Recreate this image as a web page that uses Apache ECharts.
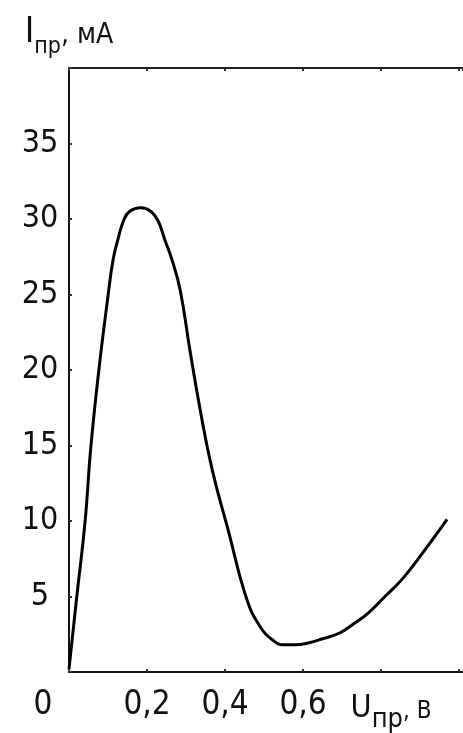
<!DOCTYPE html>
<html><head><meta charset="utf-8">
<script src="https://cdn.jsdelivr.net/npm/echarts/dist/echarts.min.js"></script>
<style>html,body{margin:0;padding:0;background:#fff}#c{width:463px;height:733px}</style>
</head><body><div id="c"></div>
<script>
// Forward voltage, V
const voltage = [0, 0.02, 0.041, 0.056, 0.077, 0.1, 0.113, 0.126, 0.14, 0.155, 0.185, 0.21, 0.228, 0.246, 0.264, 0.285, 0.31, 0.336, 0.367, 0.408, 0.456, 0.49, 0.523, 0.55, 0.58, 0.61, 0.65, 0.695, 0.73, 0.767, 0.81, 0.856, 0.91, 0.969];
// Forward current, mA
const current = [0.2, 5.0, 9.9, 14.9, 20.1, 24.9, 27.3, 28.7, 29.9, 30.5, 30.75, 30.5, 29.9, 28.6, 27.3, 25.3, 21.3, 17.4, 13.4, 9.4, 4.8, 3.0, 2.1, 1.8, 1.8, 1.9, 2.2, 2.6, 3.2, 3.9, 5.0, 6.2, 8.0, 10.1];
const xTickLabels = { '0.2': '0,2', '0.4': '0,4', '0.6': '0,6' };
const yTickLabels = [5, 10, 15, 20, 25, 30, 35];

const FONT = "'Liberation Sans Narrow', 'Arial Narrow', 'DejaVu Sans Condensed', sans-serif";
const chart = echarts.init(document.getElementById('c'), null, { renderer: 'canvas' });
const points = voltage.map((v, i) => [v, current[i]]);

chart.setOption({
  animation: false,
  backgroundColor: '#fff',
  grid: { left: 69, right: 0, top: 68, bottom: 61, containLabel: false },
  xAxis: [{
    type: 'value', min: 0, max: 1.01, interval: 0.2, position: 'bottom',
    axisLine: { show: true, onZero: false, lineStyle: { color: '#111', width: 2 } },
    axisTick: { show: true, inside: true, length: 3, lineStyle: { color: '#333', width: 2 } },
    splitLine: { show: false },
    axisLabel: {
      margin: 17, fontSize: 33, fontFamily: FONT, color: '#111',
      showMaxLabel: false,
      formatter: function (v) {
        const k = (Math.round(v * 10) / 10).toFixed(1);
        if (Math.abs(v) < 1e-9) return '{o|0}';
        if (k === '0.8') return '{u|U}{s|пр}{b|, В}';
        return xTickLabels[k] || '';
      },
      rich: {
        o: { fontSize: 33, fontFamily: FONT, color: '#111', padding: [0, 52, 0, 0] },
        u: { fontSize: 32, fontFamily: FONT, color: '#111', verticalAlign: 'bottom', lineHeight: 44, padding: [0, 0, 8, 20] },
        s: { fontSize: 27, fontFamily: FONT, color: '#111', verticalAlign: 'bottom', lineHeight: 27, padding: [0, 0, 0, 0] },
        b: { fontSize: 24, fontFamily: FONT, color: '#111', verticalAlign: 'bottom', lineHeight: 24, padding: [0, 0, 9, 0] }
      }
    }
  }, {
    type: 'value', min: 0, max: 1.01, interval: 0.2, position: 'top',
    axisLine: { show: true, onZero: false, lineStyle: { color: '#222', width: 2 } },
    axisTick: { show: true, inside: true, length: 3, lineStyle: { color: '#333', width: 2 } },
    splitLine: { show: false },
    axisLabel: { show: false }
  }],
  yAxis: {
    type: 'value', min: 0, max: 40, interval: 5,
    axisLine: { show: true, onZero: false, lineStyle: { color: '#111', width: 2 } },
    axisTick: { show: true, inside: true, length: 3, lineStyle: { color: '#333', width: 2 } },
    splitLine: { show: false },
    axisLabel: {
      margin: 29, align: 'center', fontSize: 32, fontFamily: FONT, color: '#111',
      formatter: function (v) { return yTickLabels.indexOf(v) >= 0 ? String(v) : ''; }
    },
    name: '{i|I}{s|пр}{m|, мА}',
    nameLocation: 'end',
    nameGap: 9,
    nameTextStyle: {
      align: 'center',
      rich: {
        i: { fontSize: 36, fontFamily: FONT, color: '#111', verticalAlign: 'bottom', lineHeight: 36, padding: [0, 0, 8, 0] },
        s: { fontSize: 23, fontFamily: FONT, color: '#111', verticalAlign: 'bottom', lineHeight: 23 },
        m: { fontSize: 28, fontFamily: FONT, color: '#111', verticalAlign: 'bottom', lineHeight: 28, padding: [0, 0, 9, 0] }
      }
    }
  },
  series: [{
    type: 'line',
    data: points,
    xAxisIndex: 0,
    smooth: 0.45,
    showSymbol: false,
    symbol: 'none',
    lineStyle: { color: '#000', width: 3 }
  }]
});
</script>
</body></html>
